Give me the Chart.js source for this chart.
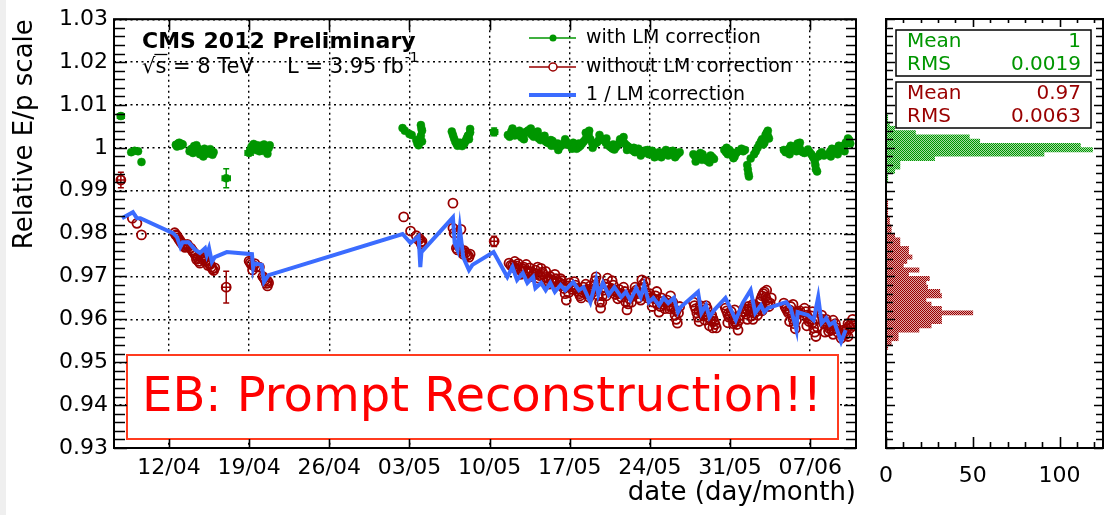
<!DOCTYPE html>
<html>
<head>
<meta charset="utf-8">
<script src="https://cdn.jsdelivr.net/npm/chart.js@4.4.1/dist/chart.umd.min.js"></script>
<style>
  html, body { margin: 0; padding: 0; background: #fff; }
  #wrap { position: relative; width: 1118px; height: 515px; overflow: hidden; background: #fff; }
  #strip { position: absolute; left: 0; top: 0; width: 6px; height: 515px; background: #efefef; }
  canvas { position: absolute; top: 0; }
  #main { left: 0; }
  #hist { left: 870px; }
</style>
</head>
<body>
<div id="wrap">
  <div id="strip"></div>
  <canvas id="main" width="870" height="515"></canvas>
  <canvas id="hist" width="248" height="515"></canvas>
</div>
<script>
// x = days since 12/04, y = relative E/p scale
const weekDays = [0, 7, 14, 21, 28, 35, 42, 49, 56];
const weekLabels = ['12/04', '19/04', '26/04', '03/05', '10/05', '17/05', '24/05', '31/05', '07/06'];
const yTicks = [0.93, 0.94, 0.95, 0.96, 0.97, 0.98, 0.99, 1.00, 1.01, 1.02, 1.03];
const yTickLabels = ['0.93', '0.94', '0.95', '0.96', '0.97', '0.98', '0.99', '1', '1.01', '1.02', '1.03'];
const histTicks = [0, 50, 100];
const legendLabels = ['with LM correction', 'without LM correction', '1 / LM correction'];

const withLM = [
  [-4.2, 1.0074], [-3.3, 0.9990], [-3.0, 0.9993], [-2.7, 0.9992], [-2.4, 0.9967],
  [0.6, 1.0007], [0.7, 1.0003], [0.8, 1.0010], [0.9, 1.0012], [1.0, 1.0005], [1.1, 1.0009], [1.2, 1.0008],
  [1.8, 0.9992], [1.9, 0.9996], [2.0, 0.9998], [2.1, 0.9988], [2.2, 1.0004], [2.3, 1.0001], [2.4, 1.0006],
  [2.5, 0.9999], [2.6, 0.9996], [2.7, 0.9985], [2.8, 0.9990], [2.9, 0.9994], [3.0, 0.9980], [3.1, 0.9998],
  [3.2, 0.9986], [3.3, 0.9990], [3.4, 0.9993], [3.5, 0.9987], [3.6, 0.9997], [3.7, 0.9992], [3.8, 0.9984], [3.9, 0.9990],
  [5.0, 0.9929],
  [7.0, 0.9988], [7.1, 0.9995], [7.2, 1.0002], [7.3, 1.0005], [7.4, 1.0009], [7.5, 1.0000], [7.6, 0.9995],
  [7.7, 1.0006], [7.8, 0.9999], [7.9, 0.9992], [8.0, 1.0005], [8.1, 0.9998], [8.2, 0.9993], [8.3, 1.0008],
  [8.4, 1.0001], [8.5, 0.9994], [8.6, 0.9986], [8.7, 0.9999], [8.8, 1.0006],
  [20.4, 1.0046], [20.6, 1.0040], [21.0, 1.0032], [21.2, 1.0030], [21.6, 1.0018], [21.7, 1.0010], [21.8, 1.0006],
  [22.0, 1.0053], [22.0, 1.0028], [22.05, 1.0045], [22.1, 1.0040], [22.1, 1.0015],
  [24.7, 1.0038], [24.8, 1.0030], [24.9, 1.0022], [25.0, 1.0015], [25.1, 1.0010], [25.2, 1.0005], [25.3, 1.0008],
  [25.4, 1.0012], [25.5, 1.0011], [25.6, 1.0004], [25.7, 1.0007], [25.8, 1.0010], [25.9, 1.0016], [26.0, 1.0022],
  [26.1, 1.0028], [26.2, 1.0020], [26.2, 1.0030], [26.3, 1.0036], [26.3, 1.0044],
  [28.4, 1.0037],
  [29.6, 1.0030], [29.75, 1.0026], [29.9, 1.0038], [30.0, 1.0045], [30.05, 1.0034], [30.2, 1.0029], [30.35, 1.0036],
  [30.5, 1.0033], [30.6, 1.0040], [30.65, 1.0028], [30.8, 1.0024], [30.95, 1.0030], [31.0, 1.0020], [31.1, 1.0036],
  [31.25, 1.0038], [31.4, 1.0041], [31.55, 1.0034], [31.6, 1.0045], [31.7, 1.0030], [31.85, 1.0026], [32.0, 1.0035],
  [32.15, 1.0030], [32.2, 1.0038], [32.3, 1.0022], [32.45, 1.0018], [32.6, 1.0026], [32.75, 1.0020], [32.8, 1.0028],
  [32.9, 1.0015], [33.05, 1.0012], [33.2, 1.0011], [33.35, 1.0018], [33.4, 1.0005], [33.5, 1.0016], [33.65, 1.0008],
  [33.8, 1.0004], [33.95, 1.0010], [34.0, 0.9995], [34.1, 1.0002], [34.25, 1.0005], [34.4, 1.0008], [34.55, 1.0012],
  [34.6, 1.0020], [34.7, 1.0014], [34.85, 1.0008], [35.0, 1.0006], [35.15, 1.0003], [35.2, 0.9998], [35.3, 1.0012],
  [35.45, 1.0008], [35.6, 0.9998], [35.75, 1.0001], [35.8, 1.0010], [35.9, 1.0004], [36.05, 1.0009], [36.2, 1.0014],
  [36.35, 1.0019], [36.4, 1.0035], [36.5, 1.0025], [36.65, 1.0030], [36.7, 1.0040], [36.8, 1.0020], [36.95, 1.0012],
  [37.0, 1.0000], [37.1, 1.0008], [37.25, 1.0010], [37.4, 1.0013], [37.55, 1.0018], [37.6, 1.0030], [37.7, 1.0022],
  [37.85, 1.0020], [38.0, 1.0017], [38.15, 1.0012], [38.2, 1.0022], [38.3, 1.0007], [38.45, 1.0004], [38.6, 1.0001],
  [38.75, 0.9998], [38.8, 1.0008], [38.9, 0.9996], [39.05, 1.0002], [39.2, 1.0008], [39.35, 1.0012], [39.4, 1.0020],
  [39.5, 1.0015], [39.65, 1.0014], [39.7, 1.0025], [39.8, 1.0010], [39.95, 1.0006], [40.0, 0.9995], [40.1, 1.0003],
  [40.25, 0.9999], [40.4, 0.9996], [40.55, 0.9993], [40.6, 1.0000], [40.7, 0.9990], [40.85, 0.9995], [41.0, 0.9998],
  [41.15, 0.9991], [41.2, 0.9982], [41.3, 0.9987], [41.45, 0.9990], [41.6, 0.9994], [41.75, 0.9989], [41.8, 0.9995],
  [41.9, 0.9985], [42.05, 0.9988], [42.2, 0.9993], [42.35, 0.9986], [42.4, 0.9978], [42.5, 0.9980], [42.65, 0.9985],
  [42.8, 0.9990], [42.95, 0.9987], [43.0, 0.9978], [43.1, 0.9984], [43.25, 0.9990], [43.4, 0.9995], [43.55, 0.9991],
  [43.6, 0.9982], [43.7, 0.9988], [43.85, 0.9985], [44.0, 0.9993], [44.15, 0.9988], [44.2, 0.9978], [44.3, 0.9982],
  [44.45, 0.9986], [44.6, 0.9990],
  [45.8, 0.9985], [45.95, 0.9980], [46.0, 0.9968], [46.1, 0.9975], [46.25, 0.9983], [46.4, 0.9988], [46.55, 0.9972],
  [46.6, 0.9985], [46.7, 0.9978], [46.85, 0.9976], [47.0, 0.9970], [47.15, 0.9975], [47.2, 0.9966], [47.3, 0.9982],
  [47.45, 0.9978], [47.6, 0.9974],
  [48.5, 0.9995], [48.65, 0.9990], [48.7, 1.0000], [48.8, 0.9985], [48.95, 0.9995], [49.1, 0.9990], [49.25, 0.9984],
  [49.3, 0.9976], [49.4, 0.9980], [49.55, 0.9988], [49.7, 0.9992],
  [50.0, 0.9998], [50.15, 0.9992], [50.3, 0.9995], [50.5, 0.9960], [50.55, 0.9950], [50.6, 0.9940],
  [50.65, 0.9933], [50.8, 0.9975],
  [51.1, 0.9985], [51.25, 0.9992], [51.4, 1.0000], [51.55, 1.0008], [51.7, 1.0015], [51.8, 1.0020],
  [51.9, 1.0008], [52.0, 1.0012], [52.1, 1.0030], [52.2, 1.0035], [52.3, 1.0040], [52.3, 1.0028], [52.4, 1.0022],
  [53.7, 0.9995], [53.85, 0.9990], [54.0, 0.9990], [54.15, 0.9998], [54.2, 0.9985], [54.3, 1.0005], [54.45, 1.0000],
  [54.6, 0.9998], [54.75, 1.0004], [54.8, 0.9992], [54.9, 1.0010], [55.05, 1.0002], [55.1, 1.0012], [55.2, 0.9993],
  [55.35, 0.9990], [55.5, 0.9988],
  [55.8, 0.9996], [55.95, 0.9990], [56.1, 0.9985], [56.25, 0.9978], [56.4, 0.9970], [56.45, 0.9960],
  [56.5, 0.9950], [56.6, 0.9945], [56.7, 0.9980], [56.85, 0.9986], [57.0, 0.9990], [57.1, 0.9985], [57.2, 0.9982],
  [57.6, 0.9985], [57.75, 0.9992], [57.8, 0.9980], [57.9, 0.9998], [58.05, 0.9993], [58.2, 0.9990], [58.35, 0.9998],
  [58.4, 0.9985], [58.5, 1.0005], [58.65, 1.0000], [58.8, 0.9996], [58.95, 1.0005], [59.0, 0.9992], [59.1, 1.0012],
  [59.25, 1.0015], [59.3, 1.0022], [59.4, 1.0018], [59.5, 1.0010]
];

const withoutLM = [
  [-4.2, 0.9925], [-3.2, 0.9836], [-2.8, 0.9824], [-2.4, 0.9797],
  [0.5, 0.9802], [0.6, 0.9797], [0.7, 0.9795], [0.8, 0.9790], [0.9, 0.9786], [1.0, 0.9782], [1.1, 0.9778],
  [1.2, 0.9775], [1.3, 0.9772], [1.4, 0.9768], [1.6, 0.9775], [1.7, 0.9770], [1.9, 0.9766], [2.0, 0.9762],
  [2.1, 0.9758], [2.2, 0.9755], [2.3, 0.9750], [2.4, 0.9740], [2.5, 0.9744], [2.6, 0.9735], [2.7, 0.9731],
  [2.8, 0.9745], [2.9, 0.9748], [3.0, 0.9738], [3.1, 0.9742], [3.2, 0.9735], [3.3, 0.9738], [3.4, 0.9726],
  [3.5, 0.9730], [3.6, 0.9728], [3.7, 0.9722], [3.8, 0.9718], [3.9, 0.9714], [4.0, 0.9720],
  [5.0, 0.9675],
  [7.0, 0.9736], [7.1, 0.9732], [7.2, 0.9728], [7.3, 0.9715], [7.4, 0.9725], [7.5, 0.9730], [7.6, 0.9722],
  [7.9, 0.9722], [8.2, 0.9700], [8.3, 0.9696], [8.4, 0.9692], [8.5, 0.9684], [8.6, 0.9678], [8.6, 0.9690], [8.7, 0.9685],
  [20.5, 0.9839], [21.1, 0.9806], [21.6, 0.9795], [21.8, 0.9785], [21.9, 0.9788], [22.0, 0.9780],
  [22.05, 0.9776], [22.1, 0.9772], [22.1, 0.9782],
  [24.8, 0.9871], [24.8, 0.9813], [24.9, 0.9801], [25.1, 0.9766], [25.2, 0.9762], [25.3, 0.9770],
  [25.5, 0.9810], [25.6, 0.9758], [25.7, 0.9752], [25.8, 0.9760], [25.9, 0.9755], [26.0, 0.9748],
  [26.1, 0.9750], [26.2, 0.9745], [26.3, 0.9752],
  [28.4, 0.9782],
  [29.7, 0.9731], [29.85, 0.9726], [30.0, 0.9725], [30.15, 0.9722], [30.2, 0.9735], [30.3, 0.9718], [30.4, 0.9724],
  [30.5, 0.9730], [30.65, 0.9716], [30.7, 0.9705], [30.8, 0.9712], [30.9, 0.9718], [31.0, 0.9722], [31.15, 0.9714],
  [31.2, 0.9728], [31.3, 0.9708], [31.4, 0.9712], [31.5, 0.9720], [31.65, 0.9710], [31.7, 0.9700], [31.8, 0.9703],
  [31.9, 0.9708], [32.0, 0.9715], [32.15, 0.9706], [32.2, 0.9722], [32.3, 0.9696], [32.4, 0.9702], [32.5, 0.9719],
  [32.6, 0.9710], [32.7, 0.9705], [32.85, 0.9698], [32.9, 0.9712], [33.0, 0.9690], [33.15, 0.9695], [33.2, 0.9682],
  [33.3, 0.9700], [33.4, 0.9692], [33.5, 0.9685], [33.65, 0.9690], [33.7, 0.9705], [33.8, 0.9695], [33.9, 0.9688],
  [34.0, 0.9680], [34.15, 0.9685], [34.2, 0.9695], [34.3, 0.9690], [34.4, 0.9680], [34.5, 0.9672], [34.6, 0.9660],
  [34.7, 0.9645], [34.85, 0.9678], [34.9, 0.9662], [35.0, 0.9685], [35.1, 0.9676], [35.2, 0.9670], [35.35, 0.9675],
  [35.4, 0.9688], [35.5, 0.9680], [35.6, 0.9672], [35.7, 0.9665], [35.85, 0.9660], [35.9, 0.9655], [36.0, 0.9650],
  [36.1, 0.9664], [36.2, 0.9675], [36.35, 0.9668], [36.4, 0.9682], [36.5, 0.9660], [36.65, 0.9670], [36.7, 0.9652],
  [36.8, 0.9678], [36.9, 0.9668], [37.0, 0.9663], [37.15, 0.9680], [37.2, 0.9690], [37.3, 0.9699], [37.4, 0.9670],
  [37.5, 0.9655], [37.6, 0.9640], [37.7, 0.9626], [37.8, 0.9640], [37.85, 0.9655], [38.0, 0.9668], [38.15, 0.9682],
  [38.2, 0.9655], [38.3, 0.9696], [38.4, 0.9675], [38.5, 0.9665], [38.65, 0.9672], [38.7, 0.9690], [38.8, 0.9680],
  [38.9, 0.9668], [39.0, 0.9658], [39.15, 0.9662], [39.2, 0.9648], [39.3, 0.9670], [39.4, 0.9660], [39.5, 0.9652],
  [39.65, 0.9658], [39.7, 0.9675], [39.8, 0.9665], [39.9, 0.9640], [40.0, 0.9622], [40.1, 0.9636], [40.2, 0.9648],
  [40.35, 0.9655], [40.4, 0.9640], [40.5, 0.9660], [40.65, 0.9662], [40.7, 0.9675], [40.8, 0.9668], [40.9, 0.9660],
  [41.0, 0.9650], [41.15, 0.9672], [41.2, 0.9645], [41.3, 0.9692], [41.4, 0.9682], [41.5, 0.9675], [41.6, 0.9688],
  [41.65, 0.9662], [41.8, 0.9650], [41.9, 0.9655], [42.0, 0.9660], [42.15, 0.9650], [42.2, 0.9630], [42.3, 0.9640],
  [42.4, 0.9648], [42.5, 0.9655], [42.6, 0.9665], [42.65, 0.9635], [42.8, 0.9617], [42.9, 0.9630], [43.0, 0.9650],
  [43.1, 0.9642], [43.2, 0.9635], [43.3, 0.9625], [43.35, 0.9640], [43.5, 0.9645], [43.6, 0.9632], [43.7, 0.9625],
  [43.8, 0.9655], [43.85, 0.9630], [44.0, 0.9640], [44.1, 0.9625], [44.2, 0.9610], [44.3, 0.9600], [44.3, 0.9620],
  [44.4, 0.9591], [44.5, 0.9615], [44.6, 0.9630],
  [45.8, 0.9640], [45.9, 0.9632], [46.0, 0.9625], [46.1, 0.9615], [46.2, 0.9605], [46.3, 0.9620], [46.3, 0.9595],
  [46.4, 0.9632], [46.5, 0.9622], [46.6, 0.9615], [46.7, 0.9608], [46.8, 0.9598], [46.9, 0.9612], [46.9, 0.9632],
  [47.0, 0.9625], [47.1, 0.9605], [47.2, 0.9585], [47.3, 0.9598], [47.4, 0.9610], [47.5, 0.9602], [47.5, 0.9580],
  [47.6, 0.9595], [47.7, 0.9588], [47.8, 0.9580],
  [48.5, 0.9633], [48.6, 0.9626], [48.7, 0.9620], [48.8, 0.9612], [48.8, 0.9592], [48.9, 0.9605], [49.0, 0.9610],
  [49.1, 0.9618], [49.2, 0.9602], [49.3, 0.9590], [49.4, 0.9595], [49.4, 0.9622], [49.5, 0.9600], [49.6, 0.9588],
  [49.7, 0.9575], [49.8, 0.9598], [49.9, 0.9610],
  [50.2, 0.9625], [50.3, 0.9618], [50.4, 0.9612], [50.5, 0.9622], [50.5, 0.9600], [50.6, 0.9630], [50.7, 0.9625],
  [50.8, 0.9618], [50.9, 0.9608], [51.0, 0.9600], [51.0, 0.9635], [51.1, 0.9615], [51.2, 0.9628], [51.3, 0.9618],
  [51.4, 0.9610], [51.5, 0.9625], [51.6, 0.9640], [51.7, 0.9648], [51.8, 0.9655], [51.8, 0.9620], [51.9, 0.9660],
  [52.0, 0.9664], [52.1, 0.9652], [52.2, 0.9645], [52.2, 0.9668], [52.3, 0.9640], [52.4, 0.9630], [52.5, 0.9638], [52.6, 0.9650],
  [53.7, 0.9638], [53.8, 0.9630], [53.9, 0.9625], [54.0, 0.9620], [54.1, 0.9615], [54.2, 0.9622], [54.2, 0.9595],
  [54.3, 0.9630], [54.4, 0.9610], [54.5, 0.9600], [54.5, 0.9635], [54.6, 0.9590], [54.7, 0.9578], [54.8, 0.9598],
  [54.9, 0.9612], [55.0, 0.9616], [55.1, 0.9620],
  [55.5, 0.9626], [55.6, 0.9618], [55.7, 0.9610], [55.7, 0.9585], [55.8, 0.9602], [55.9, 0.9595], [56.0, 0.9600],
  [56.1, 0.9608], [56.2, 0.9592], [56.2, 0.9618], [56.3, 0.9580], [56.4, 0.9570], [56.5, 0.9560], [56.6, 0.9582], [56.7, 0.9600],
  [57.0, 0.9610], [57.1, 0.9600], [57.2, 0.9590], [57.3, 0.9595], [57.3, 0.9570], [57.4, 0.9600], [57.5, 0.9586],
  [57.6, 0.9572], [57.7, 0.9578], [57.8, 0.9585], [57.9, 0.9575], [58.0, 0.9565], [58.0, 0.9598], [58.1, 0.9578],
  [58.2, 0.9590], [58.3, 0.9580], [58.4, 0.9570],
  [58.7, 0.9556], [58.8, 0.9565], [58.9, 0.9575], [59.0, 0.9570], [59.1, 0.9565], [59.2, 0.9578],
  [59.3, 0.9590], [59.3, 0.9560], [59.4, 0.9585], [59.5, 0.9580], [59.6, 0.9590], [59.7, 0.9600], [59.8, 0.9585]
];

const lmLine = [
  [-4.1, 0.9836], [-3.15, 0.9850], [-2.8, 0.9836], [-2.5, 0.9836], [0.35, 0.9801], [0.7, 0.9792],
  [1.0, 0.9769], [1.2, 0.9780], [1.7, 0.9780], [2.3, 0.9762], [2.7, 0.9755], [3.15, 0.9766],
  [3.3, 0.9750], [3.5, 0.9766], [3.75, 0.9734], [4.0, 0.9745], [5.05, 0.9757], [7.25, 0.9752],
  [7.35, 0.9720], [7.45, 0.9731], [8.1, 0.9727], [8.3, 0.9687], [8.7, 0.9703], [20.4, 0.9799],
  [21.1, 0.9778], [21.8, 0.9794], [21.95, 0.9722], [22.05, 0.9757], [24.8, 0.9838], [24.95, 0.9778],
  [25.2, 0.9762], [25.4, 0.9813], [25.7, 0.9745], [26.2, 0.9715], [26.5, 0.9727], [28.35, 0.9757],
  [29.55, 0.9699], [30.0, 0.9722], [30.4, 0.9692], [30.9, 0.9708], [31.3, 0.9685], [31.8, 0.9699],
  [32.0, 0.9673], [32.5, 0.9685], [32.9, 0.9668], [33.3, 0.9685], [33.7, 0.9664], [34.2, 0.9680],
  [34.6, 0.9668], [35.3, 0.9687], [35.8, 0.9668], [36.2, 0.9675], [36.8, 0.9640], [37.3, 0.9692],
  [37.5, 0.9657], [37.9, 0.9685], [38.4, 0.9657], [38.9, 0.9675], [39.5, 0.9652], [39.9, 0.9664],
  [40.3, 0.9645], [40.8, 0.9673], [41.2, 0.9652], [41.5, 0.9680], [41.9, 0.9640], [42.3, 0.9650],
  [42.8, 0.9633], [43.2, 0.9650], [43.6, 0.9638], [44.1, 0.9650], [44.45, 0.9617], [44.7, 0.9629],
  [46.2, 0.9664], [46.5, 0.9615], [46.9, 0.9633], [47.2, 0.9605], [47.6, 0.9621], [48.6, 0.9650],
  [48.9, 0.9633], [49.5, 0.9598], [50.1, 0.9638], [50.8, 0.9668], [51.2, 0.9615], [51.7, 0.9633],
  [52.0, 0.9617], [52.3, 0.9626], [53.9, 0.9640], [54.3, 0.9626], [54.8, 0.9575], [54.9, 0.9617],
  [55.8, 0.9610], [56.3, 0.9598], [56.7, 0.9652], [57.0, 0.9591], [57.4, 0.9603], [57.7, 0.9587],
  [58.1, 0.9594], [58.7, 0.9548], [59.1, 0.9575]
];

// [day, value, day error, value error]
const withLMErr = [[-4.2, 1.0074, 0.3, 0.0006], [5.0, 0.9929, 0.35, 0.0022], [7.0, 0.9988, 0.35, 0.0004], [28.4, 1.0037, 0.3, 0.0009]];
const withoutLMErr = [[-4.2, 0.9925, 0.3, 0.0018], [5.0, 0.9675, 0.35, 0.0037], [28.4, 0.9782, 0.3, 0.0012]];

// projections (bin centres, entries)
const greenBins = [1.0075, 1.0065, 1.0055, 1.0045, 1.0035, 1.0025, 1.0015, 1.0005, 0.9995, 0.9985, 0.9975, 0.9965, 0.9955, 0.9945, 0.9935, 0.9925];
const greenCounts = [1, 1, 2, 5, 17, 48, 54, 112, 119, 91, 28, 8, 8, 5, 1, 1];
const redBins = [0.9875, 0.9865, 0.9855, 0.9845, 0.9835, 0.9825, 0.9815, 0.9805, 0.9795, 0.9785, 0.9775, 0.9765,
  0.9755, 0.9745, 0.9735, 0.9725, 0.9715, 0.9705, 0.9695, 0.9685, 0.9675, 0.9665, 0.9655, 0.9645, 0.9635,
  0.9625, 0.9615, 0.9605, 0.9595, 0.9585, 0.9575, 0.9565, 0.9555, 0.9545, 0.9535];
const redCounts = [1, 1, 1, 1, 2, 2, 3, 3, 5, 8, 8, 13, 13, 15, 12, 10, 19, 13, 25, 23, 24, 31, 32, 23, 26,
  32, 50, 32, 32, 26, 19, 7, 7, 3, 1];
const greenStats = ['1', '0.0019'];
const redStats = ['0.97', '0.0063'];

const GREEN = '#009600', RED = '#990000', BLUE = '#3b6cff';
const FONT = '"DejaVu Sans", sans-serif';
Chart.defaults.font.family = FONT;
Chart.defaults.color = '#000';

const toXY = pts => pts.map(p => ({ x: p[0], y: p[1] }));

// frame with inward ROOT-style ticks
function drawFrame(chart, o) {
  const { ctx, chartArea: a } = chart;
  const xs = chart.scales.x, ys = chart.scales.y;
  ctx.save();
  ctx.strokeStyle = '#000';
  ctx.lineWidth = 1.6;
  ctx.beginPath();
  const n = Math.round((ys.max - ys.min) / o.yMinor);
  for (let i = 0; i <= n; i++) {
    const py = Math.round(ys.getPixelForValue(ys.min + i * o.yMinor)) + 0.5;
    const l = i % o.yEvery === 0 ? o.yMajor : o.yMinorLen;
    ctx.moveTo(a.left, py); ctx.lineTo(a.left + l[0], py);
    ctx.moveTo(a.right, py); ctx.lineTo(a.right - l[1], py);
  }
  o.xTicks.forEach(t => {
    const px = Math.round(xs.getPixelForValue(t[0])) + 0.5;
    ctx.moveTo(px, a.bottom); ctx.lineTo(px, a.bottom - t[1]);
    ctx.moveTo(px, a.top); ctx.lineTo(px, a.top + t[2]);
  });
  ctx.stroke();
  ctx.lineWidth = 2;
  ctx.strokeRect(a.left, a.top, a.right - a.left, a.bottom - a.top);
  ctx.restore();
}

function drawErrors(chart, pts, color) {
  const { ctx } = chart;
  const xs = chart.scales.x, ys = chart.scales.y;
  ctx.save();
  ctx.strokeStyle = color;
  ctx.lineWidth = 1.5;
  ctx.beginPath();
  pts.forEach(p => {
    const x = xs.getPixelForValue(p[0]), y = ys.getPixelForValue(p[1]);
    const y0 = ys.getPixelForValue(p[1] - p[3]), y1 = ys.getPixelForValue(p[1] + p[3]);
    const x0 = xs.getPixelForValue(p[0] - p[2]), x1 = xs.getPixelForValue(p[0] + p[2]);
    ctx.moveTo(x, y0); ctx.lineTo(x, y1);
    ctx.moveTo(x - 3, y0); ctx.lineTo(x + 3, y0);
    ctx.moveTo(x - 3, y1); ctx.lineTo(x + 3, y1);
    ctx.moveTo(x0, y); ctx.lineTo(x1, y);
    ctx.moveTo(x0, y - 3); ctx.lineTo(x0, y + 3);
    ctx.moveTo(x1, y - 3); ctx.lineTo(x1, y + 3);
  });
  ctx.stroke();
  ctx.restore();
}

const mainDecor = {
  id: 'mainDecor',
  afterDatasetsDraw(chart) {
    drawErrors(chart, withoutLMErr, RED);
    drawErrors(chart, withLMErr, GREEN);
    const ctx = chart.ctx;
    // EB label box
    ctx.save();
    ctx.fillStyle = '#fff';
    ctx.fillRect(127, 355, 711, 84);
    ctx.strokeStyle = '#ff3b1f';
    ctx.lineWidth = 2;
    ctx.strokeRect(127, 355, 711, 84);
    ctx.fillStyle = '#ff0000';
    ctx.font = '48px ' + FONT;
    ctx.textAlign = 'center';
    ctx.textBaseline = 'middle';
    ctx.fillText('EB: Prompt Reconstruction!!', 482, 399);
    ctx.restore();
  },
  afterDraw(chart) {
    drawFrame(chart, {
      yMinor: 0.002, yEvery: 5, yMajor: [13, 12], yMinorLen: [11, 10],
      xTicks: weekDays.map(d => [d, 9, 11])
    });
    const ctx = chart.ctx;
    ctx.save();
    ctx.fillStyle = '#000';
    ctx.textBaseline = 'middle';
    ctx.font = 'bold 22px ' + FONT;
    ctx.fillText('CMS 2012 Preliminary', 142, 42);
    ctx.font = '21px ' + FONT;
    ctx.fillText('\u221As = 8 TeV', 142, 68);
    // overline of the square root
    const rw = ctx.measureText('\u221A').width, sw = ctx.measureText('s').width;
    ctx.strokeStyle = '#000';
    ctx.lineWidth = 1.3;
    ctx.beginPath(); ctx.moveTo(142 + rw - 1, 54.5); ctx.lineTo(142 + rw + sw + 1, 54.5); ctx.stroke();
    ctx.fillText('L = 3.95 fb', 287, 68);
    const w = ctx.measureText('L = 3.95 fb').width;
    ctx.font = '14px ' + FONT;
    ctx.fillText('-1', 287 + w + 1, 58);
    // legend
    const rows = [38, 67, 95];
    ctx.font = '19px ' + FONT;
    legendLabels.forEach((t, i) => {
      ctx.fillStyle = '#000';
      ctx.fillText(t, 586, rows[i]);
    });
    ctx.lineWidth = 1.5;
    ctx.strokeStyle = GREEN;
    ctx.beginPath(); ctx.moveTo(529, rows[0]); ctx.lineTo(576, rows[0]); ctx.stroke();
    ctx.fillStyle = GREEN;
    ctx.beginPath(); ctx.arc(553, rows[0], 3.5, 0, 2 * Math.PI); ctx.fill();
    ctx.strokeStyle = RED;
    ctx.beginPath(); ctx.moveTo(529, rows[1]); ctx.lineTo(549, rows[1]); ctx.moveTo(557, rows[1]); ctx.lineTo(576, rows[1]); ctx.stroke();
    ctx.beginPath(); ctx.arc(553, rows[1], 4, 0, 2 * Math.PI); ctx.stroke();
    ctx.strokeStyle = BLUE;
    ctx.lineWidth = 4;
    ctx.beginPath(); ctx.moveTo(529, rows[2]); ctx.lineTo(576, rows[2]); ctx.stroke();
    ctx.restore();
  }
};

new Chart(document.getElementById('main'), {
  type: 'scatter',
  data: {
    datasets: [
      { type: 'line', label: legendLabels[2], data: toXY(lmLine), borderColor: BLUE, borderWidth: 4,
        pointRadius: 0, fill: false, tension: 0, order: 0 },
      { label: legendLabels[1], data: toXY(withoutLM), pointStyle: 'circle', pointRadius: 4.5,
        backgroundColor: 'rgba(0,0,0,0)', borderColor: RED, borderWidth: 1.8, order: 1 },
      { label: legendLabels[0], data: toXY(withLM), pointStyle: 'circle', pointRadius: 4,
        backgroundColor: GREEN, borderColor: GREEN, borderWidth: 0.5, order: 2 }
    ]
  },
  options: {
    responsive: false,
    animation: false,
    layout: { padding: { left: 0, right: 14, top: 19, bottom: 0 } },
    scales: {
      x: {
        type: 'linear', min: -4.8, max: 60.0,
        afterBuildTicks: s => { s.ticks = weekDays.map(v => ({ value: v })); },
        afterFit: s => { s.height = 67; },
        ticks: { callback: (v, i) => weekLabels[i], font: { size: 22 }, padding: 7, maxRotation: 0, autoSkip: false },
        grid: { color: '#000', lineWidth: 1.4, drawTicks: false },
        border: { display: false, dash: [2, 3.5] },
        title: { display: true, text: 'date (day/month)', align: 'end', font: { size: 26 }, padding: { top: 0, bottom: 6 } }
      },
      y: {
        type: 'linear', min: 0.93, max: 1.03,
        afterBuildTicks: s => { s.ticks = yTicks.map(v => ({ value: v })); },
        afterFit: s => { s.width = 114; },
        ticks: { callback: (v, i) => yTickLabels[i], font: { size: 22 }, padding: 6, autoSkip: false },
        grid: { color: '#000', lineWidth: 1.4, drawTicks: false },
        border: { display: false, dash: [2, 3.5] },
        title: { display: true, text: 'Relative E/p scale', align: 'end', font: { size: 26 }, padding: { top: 10, bottom: 0 } }
      }
    },
    plugins: { legend: { display: false }, tooltip: { enabled: false } }
  },
  plugins: [mainDecor]
});

// projection histogram
const histCtx = document.getElementById('hist').getContext('2d');
function checker(dark, light) {
  const c = document.createElement('canvas');
  c.width = 2; c.height = 2;
  const g = c.getContext('2d');
  g.fillStyle = light; g.fillRect(0, 0, 2, 2);
  g.fillStyle = dark; g.fillRect(0, 0, 1, 1); g.fillRect(1, 1, 1, 1);
  return histCtx.createPattern(c, 'repeat');
}

function statsBox(ctx, top, color, vals) {
  ctx.save();
  ctx.fillStyle = '#fff';
  ctx.fillRect(26, top, 195, 46);
  ctx.strokeStyle = '#000';
  ctx.lineWidth = 1.5;
  ctx.strokeRect(26, top, 195, 46);
  ctx.fillStyle = color;
  ctx.font = '20px ' + FONT;
  ctx.textBaseline = 'middle';
  ctx.textAlign = 'left';
  ctx.fillText('Mean', 37, top + 12);
  ctx.fillText('RMS', 37, top + 35);
  ctx.textAlign = 'right';
  ctx.fillText(vals[0], 211, top + 12);
  ctx.fillText(vals[1], 211, top + 35);
  ctx.restore();
}

const histDecor = {
  id: 'histDecor',
  afterDraw(chart) {
    const xt = [];
    for (let c = 0; c <= 120; c += 10) xt.push(c % 50 === 0 ? [c, 11, 8] : [c, 6, 4]);
    drawFrame(chart, { yMinor: 0.002, yEvery: 5, yMajor: [9, 9], yMinorLen: [7, 7], xTicks: xt });
    statsBox(chart.ctx, 30, GREEN, greenStats);
    statsBox(chart.ctx, 82, RED, redStats);
  }
};

new Chart(histCtx, {
  type: 'bar',
  data: {
    datasets: [
      { data: greenBins.map((b, i) => ({ x: greenCounts[i], y: b })), backgroundColor: checker(GREEN, '#a8dca8'),
        grouped: false, barPercentage: 1, categoryPercentage: 1, borderWidth: 0 },
      { data: redBins.map((b, i) => ({ x: redCounts[i], y: b })), backgroundColor: checker(RED, '#e0a8a8'),
        grouped: false, barPercentage: 1, categoryPercentage: 1, borderWidth: 0 }
    ]
  },
  options: {
    indexAxis: 'y',
    responsive: false,
    animation: false,
    layout: { padding: { left: 16, right: 15, top: 19, bottom: 0 } },
    scales: {
      y: { type: 'linear', min: 0.93, max: 1.03, offset: false, display: false },
      x: {
        type: 'linear', min: 0, max: 125,
        afterBuildTicks: s => { s.ticks = histTicks.map(v => ({ value: v })); },
        afterFit: s => { s.height = 67; },
        ticks: { font: { size: 22 }, padding: 7, maxRotation: 0, autoSkip: false },
        grid: { display: false },
        border: { display: false }
      }
    },
    plugins: { legend: { display: false }, tooltip: { enabled: false } }
  },
  plugins: [histDecor]
});
</script>
</body>
</html>
